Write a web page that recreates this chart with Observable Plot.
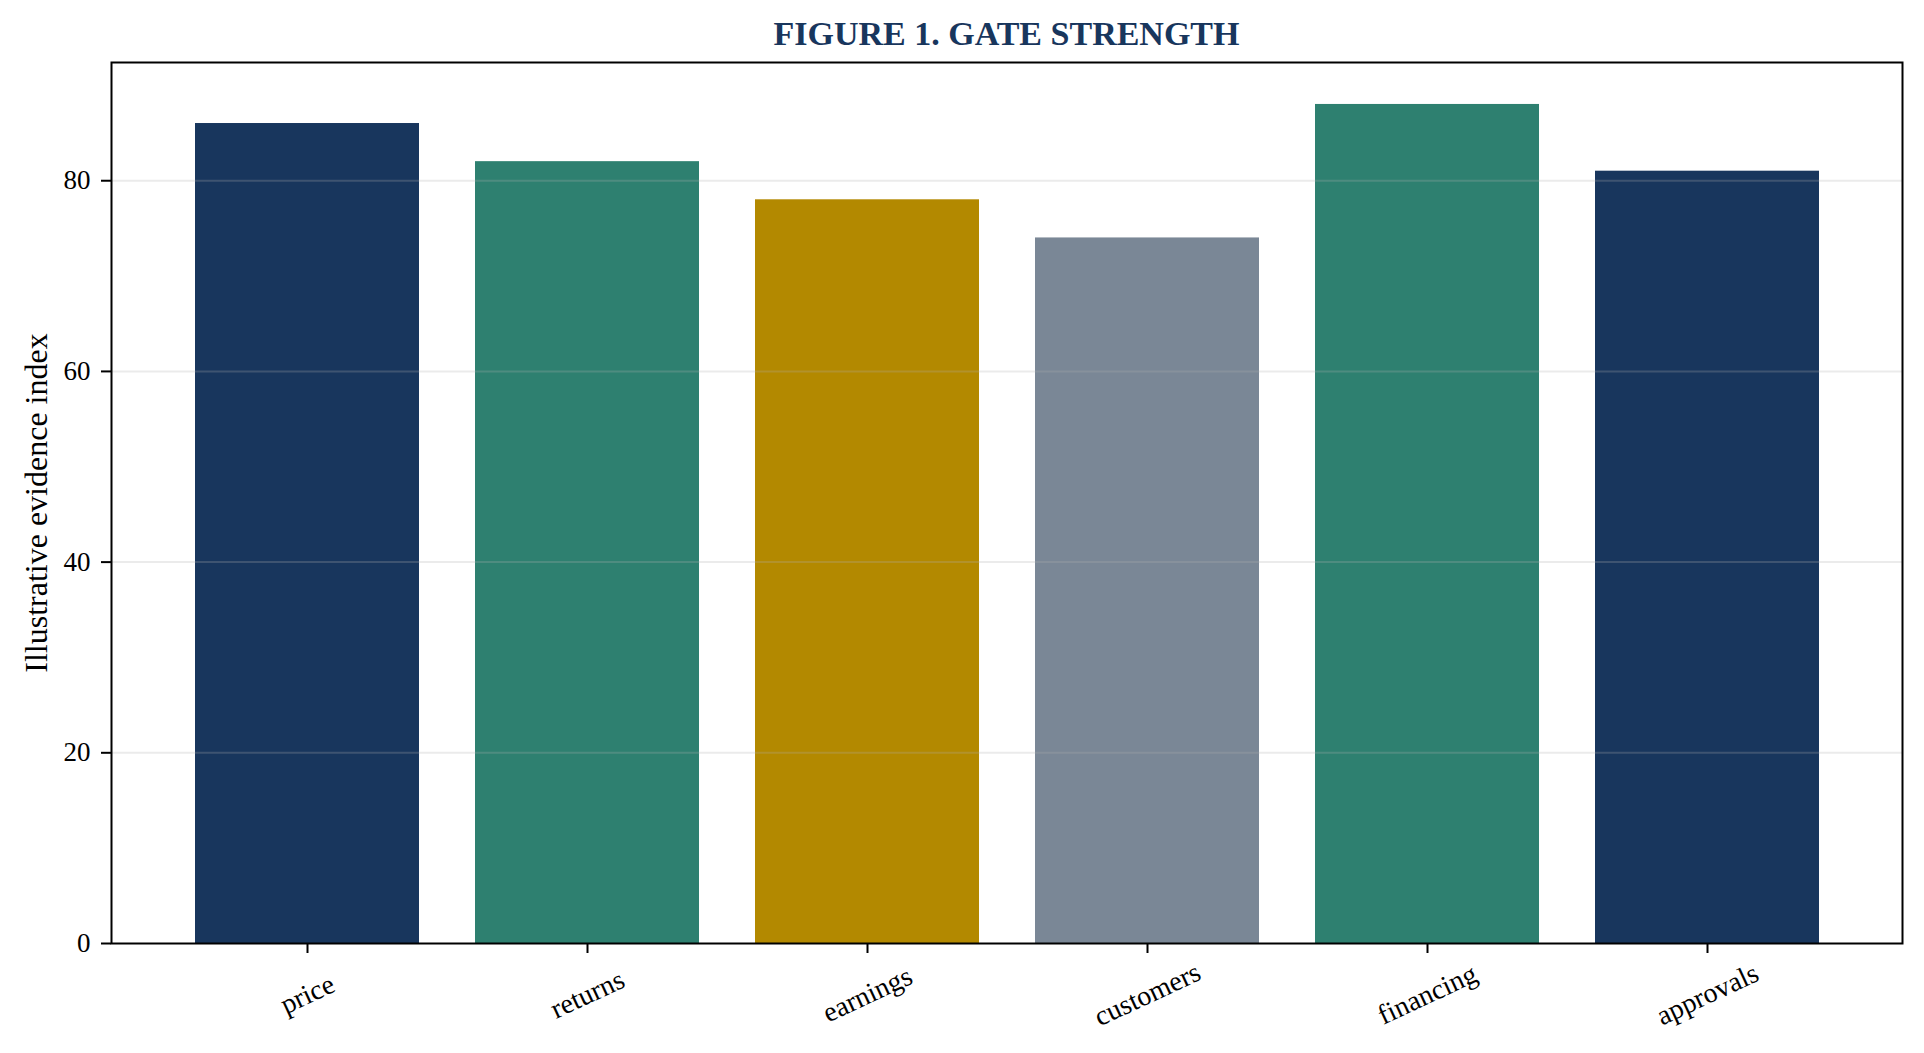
<!DOCTYPE html>
<html>
<head>
<meta charset="utf-8">
<script src="https://cdn.jsdelivr.net/npm/d3@7"></script>
<script src="https://cdn.jsdelivr.net/npm/@observablehq/plot@0.6"></script>
<style>
  html, body { margin: 0; padding: 0; background: #ffffff; }
  #title {
    margin-left: 111px; width: 1791px; height: 40px; padding-top: 14px;
    text-align: center; font-family: "Liberation Serif", "Times New Roman", serif;
    font-weight: bold; font-size: 34px; line-height: 40px; color: #18365d;
  }
  #chart svg { display: block; }
</style>
</head>
<body>
<div id="title">FIGURE 1. GATE STRENGTH</div>
<div id="chart"></div>
<script>
const categories = ["price", "returns", "earnings", "customers", "financing", "approvals"];
const values = [86, 82, 78, 74, 88, 81];
const barColors = ["#18365d", "#2e8070", "#b38900", "#7a8796", "#2e8070", "#18365d"];
const yTicks = [0, 20, 40, 60, 80];
const yLabel = "Illustrative evidence index";

const data = categories.map((c, i) => ({category: c, value: values[i], color: barColors[i]}));

const chart = Plot.plot({
  width: 1924,
  height: 999,
  marginLeft: 111,
  marginRight: 22,
  marginTop: 8,
  marginBottom: 110,
  style: {fontFamily: "'Liberation Serif', 'Times New Roman', serif", fontSize: "27px", background: "#ffffff", color: "#000000"},
  x: {type: "band", domain: categories, paddingInner: 0.2, paddingOuter: 0.29, axis: null},
  y: {domain: [0, 92.4], axis: null},
  color: {type: "identity"},
  marks: [
    Plot.barY(data, {x: "category", y: "value", fill: "color"}),
    Plot.gridY(yTicks.filter(d => d > 0), {stroke: "#b0b0b0", strokeOpacity: 0.25, strokeWidth: 2}),
    Plot.axisY({ticks: yTicks, tickSize: 10, tickPadding: 11, strokeWidth: 2, tickFormat: d => String(d), label: null, fontSize: 27}),
    Plot.axisX({tickSize: 10, strokeWidth: 2, tickFormat: () => "", label: null}),
    Plot.text(categories, {x: d => d, frameAnchor: "bottom", dy: 51, rotate: -25, textAnchor: "middle", lineAnchor: "middle", fontSize: 28}),
    Plot.text([yLabel], {frameAnchor: "left", dx: -75, rotate: -90, textAnchor: "middle", lineAnchor: "middle", fontSize: 32}),
    Plot.frame({stroke: "#000000", strokeWidth: 2})
  ]
});
document.getElementById("chart").appendChild(chart);
</script>
</body>
</html>
